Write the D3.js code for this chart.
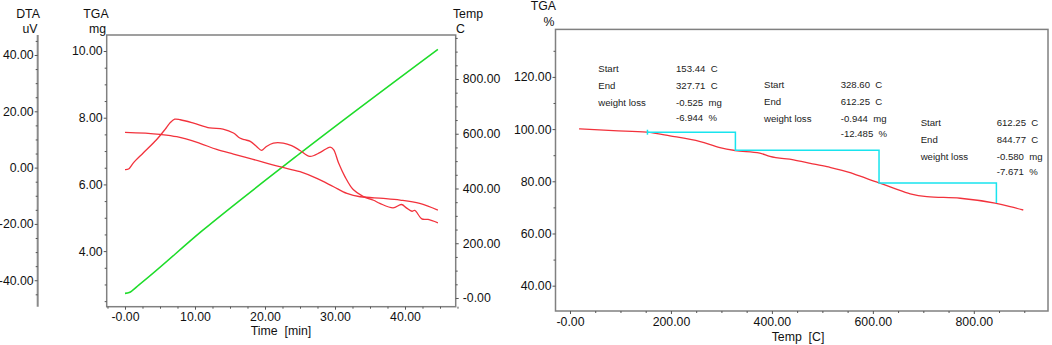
<!DOCTYPE html>
<html><head><meta charset="utf-8">
<script src="https://cdn.jsdelivr.net/npm/d3@7"></script>
<style>
html,body{margin:0;padding:0;background:#fff;}
svg{display:block;font-family:"Liberation Sans",Arial,sans-serif;}
text{white-space:pre;}
</style></head>
<body><svg id="c" width="1052" height="345"></svg>
<script>
// ---------- Left panel data (time in min) ----------
const tgaTime = [0, 5.0, 7.4, 10.7, 13.1, 15.5, 18.3, 22.1, 25.0, 27.4, 29.8, 31.7, 33.6, 36.9, 39.3, 42.1, 44.7];
const tgaMg   = [7.56, 7.50, 7.43, 7.23, 7.05, 6.91, 6.75, 6.53, 6.38, 6.18, 5.93, 5.73, 5.63, 5.58, 5.53, 5.43, 5.23];

const dtaTime = [0, 0.5, 1.2, 2.6, 4.5, 5.7, 6.4, 7.1, 7.9, 9.8, 12.1, 14.0, 15.5, 16.4, 17.1, 17.9, 18.8, 19.5, 20.2, 21.2, 22.6, 23.8, 25.0, 26.4, 27.9, 29.3, 29.8, 30.5, 31.4, 32.6, 34.0, 35.5, 36.4, 38.3, 39.5, 40.2, 41.0, 41.4, 42.4, 43.3, 44.7];
const dtaUv   = [-0.7, -0.5, 1.7, 5.2, 9.9, 13.5, 15.8, 17.2, 17.0, 15.8, 14.1, 13.7, 12.3, 10.5, 9.9, 9.3, 7.5, 6.1, 7.5, 8.7, 8.7, 7.8, 6.1, 4.0, 5.4, 7.3, 6.4, 1.7, -3.1, -7.8, -10.2, -11.6, -12.7, -14.3, -13.1, -14.3, -15.5, -15.2, -18.2, -18.4, -19.6];

const tempTime = [0, 0.6, 2.0, 11.0, 25.0, 44.7];
const tempC    = [17, 20, 48, 245, 528, 908];

const dtaTicks  = [40, 20, 0, -20, -40];
const dtaLabels = ["40.00", "20.00", "0.00", "-20.00", "-40.00"];
const mgTicks   = [10, 8, 6, 4];
const mgLabels  = ["10.00", "8.00", "6.00", "4.00"];
const tempTicks = [800, 600, 400, 200, 0];
const tempLabels= ["800.00", "600.00", "400.00", "200.00", "-0.00"];
const timeTicks = [0, 10, 20, 30, 40];
const timeLabels= ["-0.00", "10.00", "20.00", "30.00", "40.00"];

// ---------- Right panel data (temperature in C) ----------
const pctTemp = [18, 86, 152, 198, 258, 297, 327, 376, 396, 443, 476, 509, 555, 562, 611, 641, 674, 707, 773, 842, 872, 898];
const pctVal  = [100.1, 99.4, 98.8, 97.4, 95.2, 92.9, 91.8, 90.8, 89.5, 88.2, 86.9, 85.6, 83.3, 82.8, 79.5, 77.4, 75.2, 74.1, 73.5, 71.6, 70.3, 69.0];

const stepStarts = [153.44, 328.60, 612.25];
const stepEnds   = [327.71, 612.25, 844.77];
const stepLossMg = [-0.525, -0.944, -0.580];
const stepLossPct= [-6.944, -12.485, -7.671];
const stepLevel0 = 98.8;

const pctTicks  = [120, 100, 80, 60, 40];
const pctLabels = ["120.00", "100.00", "80.00", "60.00", "40.00"];
const rtTicks   = [0, 200, 400, 600, 800];
const rtLabels  = ["-0.00", "200.00", "400.00", "600.00", "800.00"];

// ---------- drawing ----------
const svg = d3.select("#c");
const RED = "#f2323c", GREEN = "#1edc2a", CYAN = "#18e4ee", BOX = "#808080", TXT = "#111";
const FS = 12.3;

function styleAxis(g) {
  g.select(".domain").remove();
  g.selectAll(".tick line").attr("stroke", "#555");
  g.selectAll(".tick text").attr("fill", TXT).attr("font-size", FS).attr("font-family", "Liberation Sans, Arial, sans-serif");
}
function minor(g, axisFn, scale, vals) {
  const a = axisFn(scale).tickValues(vals).tickSize(2).tickFormat("");
  g.call(a); g.select(".domain").remove(); g.selectAll(".tick line").attr("stroke", "#555");
}
function range(a, b, s) { const r = []; for (let v = a; v <= b + 1e-9; v += s) r.push(+v.toFixed(4)); return r; }

// Left panel scales
const L = {l: 106.7, r: 455.7, t: 35, b: 306.7};
const xT  = d3.scaleLinear().domain([-2.614, 47.243]).range([L.l, L.r]);
const yMg = d3.scaleLinear().domain([2.333, 10.48]).range([L.b, L.t]);
const yTp = d3.scaleLinear().domain([-31.8, 960.7]).range([L.b, L.t]);
const yDt = d3.scaleLinear().domain([-49.4, 47.1]).range([L.b, L.t]);

// DTA standalone axis
const dtaX = 37.7;
svg.append("line").attr("x1", dtaX).attr("x2", dtaX).attr("y1", L.t).attr("y2", L.b)
  .attr("stroke", "#8a8a8a").attr("stroke-width", 2);
minor(svg.append("g").attr("transform", `translate(${dtaX},0)`), d3.axisLeft, yDt, range(-45, 45, 5).filter(v => v % 20 !== 0));
svg.append("g").attr("transform", `translate(${dtaX},0)`)
  .call(d3.axisLeft(yDt).tickValues(dtaTicks).tickFormat((d, i) => dtaLabels[i]).tickSize(3).tickPadding(1))
  .call(styleAxis);

// Left box
svg.append("rect").attr("x", L.l).attr("y", L.t).attr("width", L.r - L.l).attr("height", L.b - L.t)
  .attr("fill", "none").attr("stroke", BOX).attr("stroke-width", 1.5);

minor(svg.append("g").attr("transform", `translate(${L.l},0)`), d3.axisLeft, yMg, range(2.5, 10, 0.5).filter(v => v % 2 !== 0));
svg.append("g").attr("transform", `translate(${L.l},0)`)
  .call(d3.axisLeft(yMg).tickValues(mgTicks).tickFormat((d, i) => mgLabels[i]).tickSize(3).tickPadding(1))
  .call(styleAxis);

minor(svg.append("g").attr("transform", `translate(${L.r},0)`), d3.axisRight, yTp, range(-0, 950, 50).filter(v => v % 200 !== 0));
svg.append("g").attr("transform", `translate(${L.r},0)`)
  .call(d3.axisRight(yTp).tickValues(tempTicks).tickFormat((d, i) => tempLabels[i]).tickSize(3).tickPadding(4))
  .call(styleAxis);

minor(svg.append("g").attr("transform", `translate(0,${L.b})`), d3.axisBottom, xT, range(-2.5, 47.5, 2.5).filter(v => v % 10 !== 0));
svg.append("g").attr("transform", `translate(0,${L.b})`)
  .call(d3.axisBottom(xT).tickValues(timeTicks).tickFormat((d, i) => timeLabels[i]).tickSize(3).tickPadding(3))
  .call(styleAxis);

// Left lines
svg.append("path").datum(d3.zip(tempTime, tempC))
  .attr("d", d3.line().x(d => xT(d[0])).y(d => yTp(d[1])).curve(d3.curveMonotoneX))
  .attr("fill", "none").attr("stroke", GREEN).attr("stroke-width", 1.6);
svg.append("path").datum(d3.zip(tgaTime, tgaMg))
  .attr("d", d3.line().x(d => xT(d[0])).y(d => yMg(d[1])).curve(d3.curveMonotoneX))
  .attr("fill", "none").attr("stroke", RED).attr("stroke-width", 1.3);
svg.append("path").datum(d3.zip(dtaTime, dtaUv))
  .attr("d", d3.line().x(d => xT(d[0])).y(d => yDt(d[1])).curve(d3.curveCatmullRom.alpha(0.5)))
  .attr("fill", "none").attr("stroke", RED).attr("stroke-width", 1.3);

// Left header labels
function label(x, y, t, anchor = "middle", fs = FS) {
  svg.append("text").attr("x", x).attr("y", y).attr("text-anchor", anchor)
    .attr("font-size", fs).attr("fill", TXT).text(t);
}
label(28, 17.6, "DTA"); label(30, 33.3, "uV");
label(96, 17.6, "TGA"); label(97.5, 33.3, "mg");
label(468, 17.6, "Temp"); label(460.5, 33.3, "C");
label(281, 334.5, "Time  [min]");

// Right panel
const R = {l: 555.5, r: 1048, t: 29.4, b: 311};
const xR = d3.scaleLinear().domain([-28.7, 947]).range([R.l, R.r]);
const yP = d3.scaleLinear().domain([30.3, 138.2]).range([R.b, R.t]);

svg.append("rect").attr("x", R.l).attr("y", R.t).attr("width", R.r - R.l).attr("height", R.b - R.t)
  .attr("fill", "none").attr("stroke", BOX).attr("stroke-width", 1.5);
minor(svg.append("g").attr("transform", `translate(${R.l},0)`), d3.axisLeft, yP, range(40, 130, 10).filter(v => v % 20 !== 0));
svg.append("g").attr("transform", `translate(${R.l},0)`)
  .call(d3.axisLeft(yP).tickValues(pctTicks).tickFormat((d, i) => pctLabels[i]).tickSize(3).tickPadding(1))
  .call(styleAxis);
minor(svg.append("g").attr("transform", `translate(0,${R.b})`), d3.axisBottom, xR, range(-0, 900, 50).filter(v => v % 200 !== 0));
svg.append("g").attr("transform", `translate(0,${R.b})`)
  .call(d3.axisBottom(xR).tickValues(rtTicks).tickFormat((d, i) => rtLabels[i]).tickSize(3).tickPadding(3))
  .call(styleAxis);

label(543.3, 10.3, "TGA"); label(549, 26, "%");
label(798, 341, "Temp  [C]");

svg.append("path").datum(d3.zip(pctTemp, pctVal))
  .attr("d", d3.line().x(d => xR(d[0])).y(d => yP(d[1])).curve(d3.curveMonotoneX))
  .attr("fill", "none").attr("stroke", RED).attr("stroke-width", 1.3);

// Step lines (weight loss)
let lvl = stepLevel0;
const stepPts = [[stepStarts[0], lvl]];
stepEnds.forEach((e, i) => {
  stepPts.push([e, lvl]);
  lvl = lvl + stepLossPct[i];
  stepPts.push([e, lvl]);
});
svg.append("path").datum(stepPts)
  .attr("d", d3.line().x(d => xR(d[0])).y(d => yP(d[1])))
  .attr("fill", "none").attr("stroke", CYAN).attr("stroke-width", 1.5);
svg.append("line").attr("x1", xR(stepStarts[0])).attr("x2", xR(stepStarts[0]))
  .attr("y1", yP(stepLevel0) - 2.5).attr("y2", yP(stepLevel0) + 2.5).attr("stroke", CYAN).attr("stroke-width", 1.5);

// Annotation blocks
const blockPos = [[598.3, 676, 72.3], [764, 840.7, 88.3], [920.7, 996.7, 126.2]];
const AFS = 9.6, ACOL = "#222";
blockPos.forEach((p, i) => {
  const [xl, xv, y0] = p;
  const rows = [["Start", stepStarts[i].toFixed(2) + "  C"], ["End", stepEnds[i].toFixed(2) + "  C"],
                ["weight loss", stepLossMg[i].toFixed(3) + "  mg"], ["", stepLossPct[i].toFixed(i === 1 ? 3 : 3) + "  %"]];
  const ys = [y0, y0 + 16.8, y0 + 33.6, y0 + 48.5];
  rows.forEach((r, j) => {
    if (r[0]) svg.append("text").attr("x", xl).attr("y", ys[j]).attr("font-size", AFS).attr("fill", ACOL).text(r[0]);
    svg.append("text").attr("x", xv).attr("y", ys[j]).attr("font-size", AFS).attr("fill", ACOL).text(r[1]);
  });
});
</script></body></html>
